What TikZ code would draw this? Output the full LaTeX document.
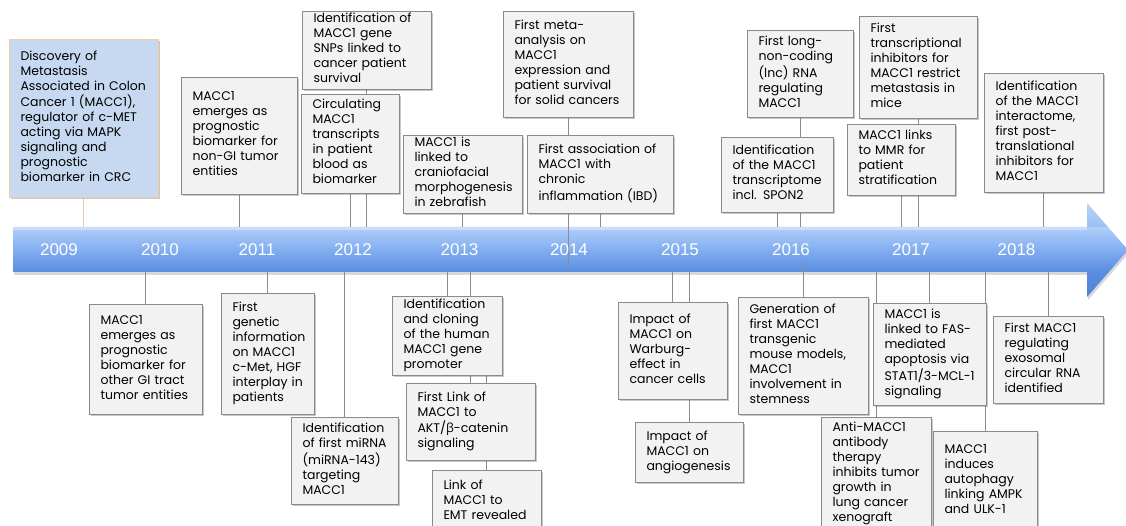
\documentclass[tikz,border=0pt]{standalone}
\usepackage{fontspec}
\newfontfamily\evfont{Poppins}
\newfontfamily\yrfont{Liberation Sans}
\newfontfamily\grkfont{Open Sans}
\usetikzlibrary{shadows}
\definecolor{boxfill}{HTML}{F2F2F2}
\definecolor{boxline}{HTML}{8A8A8A}
\definecolor{connc}{HTML}{8C8C8C}
\definecolor{firstfill}{HTML}{C6D9F1}
\definecolor{firstline}{HTML}{F0CCA8}
\definecolor{firstconn}{HTML}{E6CDB8}
\definecolor{bandtop}{HTML}{B0CEF9}
\definecolor{bandmid}{HTML}{82AEF0}
\definecolor{bandbot}{HTML}{598DDE}
\definecolor{headhi}{HTML}{9CC0F5}
\definecolor{headhitop}{HTML}{B6D3FA}
\definecolor{headlo}{HTML}{4F83D6}
\pgfdeclareverticalshading{arrowshade}{100bp}{color(0bp)=(headlo); color(25bp)=(headlo); color(38.3bp)=(bandbot); color(50bp)=(bandmid); color(62.2bp)=(bandtop); color(62.4bp)=(headhi); color(75bp)=(headhitop); color(100bp)=(headhitop)}
\pgfdeclarelayer{bglayer}
\pgfdeclarelayer{bandlayer}
\pgfdeclarelayer{connlayer}
\pgfsetlayers{bglayer,bandlayer,connlayer,main}
\newcommand\tl[1]{\begin{tabular}{@{}l@{}}#1\end{tabular}}
\tikzset{
  ev/.style={draw=boxline, fill=boxfill, line width=0.9pt, inner xsep=11.5pt, inner ysep=0pt,
    outer sep=0pt, align=left, font={\evfont\fontsize{12.5}{15}\selectfont}, text=black,
    drop shadow={shadow xshift=1.5pt, shadow yshift=-2pt, opacity=0.3, fill=black!70}},
  evfirst/.style={ev, draw=firstline, fill=firstfill},
  conn/.style={draw=connc, line width=0.9pt},
  connfirst/.style={draw=firstconn, line width=1.4pt},
  yr/.style={text=white, font={\yrfont\fontsize{17}{20}\selectfont}, inner sep=0pt}
}
\begin{document}
\begin{tikzpicture}[x=1pt, y=-1pt]
\useasboundingbox (0,0) rectangle (1126,526);
\begin{pgfonlayer}{bglayer}
\fill[white] (0,0) rectangle (1126,526);
\end{pgfonlayer}
% band with arrow head
\begin{pgfonlayer}{bandlayer}
\shade[shading=arrowshade,
  drop shadow={shadow xshift=1pt, shadow yshift=-3pt, opacity=0.25, fill=black!60}]
  (13,227) -- (1087,227) -- (1087,203) -- (1128,250) -- (1087,297) -- (1087,272) -- (13,272) -- cycle;
\fill[white, opacity=0.35] (13,227) rectangle (1087,230);
\end{pgfonlayer}
\coordinate (bt) at (0,227);
\coordinate (bm) at (0,267);
\coordinate (bb) at (0,272);
\coordinate (bg) at (0,262);
% years
\node[yr] (y2009) at (59,250) {2009};
\node[yr] (y2010) at (160,250) {2010};
\node[yr] (y2011) at (257,250) {2011};
\node[yr] (y2012) at (353,250) {2012};
\node[yr] (y2013) at (459.5,250) {2013};
\node[yr] (y2014) at (569,250) {2014};
\node[yr] (y2015) at (680,250) {2015};
\node[yr] (y2016) at (791,250) {2016};
\node[yr] (y2017) at (911,250) {2017};
\node[yr] (y2018) at (1016.5,250) {2018};
% top boxes
\node[evfirst, text width=126pt, minimum height=158pt] (b2009) at (83.5,118) {\tl{Discovery of\\ Metastasis\\ Associated in Colon\\ Cancer 1 (MACC1),\\ regulator of c-MET\\ acting via MAPK\\ signaling and\\ prognostic\\ biomarker in CRC}};
\node[ev, text width=93pt, minimum height=117pt] (b2011t) at (239,135.5) {\tl{MACC1\\ emerges as\\ prognostic\\ biomarker for\\ non-GI tumor\\ entities}};
\node[ev, text width=106pt, minimum height=78pt] (bsnp) at (366.5,50) {\tl{Identification of\\ MACC1 gene\\ SNPs linked to\\ cancer patient\\ survival}};
\node[ev, text width=75pt, minimum height=99pt] (bcirc) at (350,143.5) {\tl{Circulating\\ MACC1\\ transcripts\\ in patient\\ blood as\\ biomarker}};
\node[ev, text width=96pt, minimum height=78pt] (bzeb) at (462.5,174) {\tl{MACC1 is\\ linked to\\ craniofacial\\ morphogenesis\\ in zebrafish}};
\node[ev, text width=107pt, minimum height=106pt] (bmeta) at (568,64) {\tl{First meta-\\ analysis on\\ MACC1\\ expression and\\ patient survival\\ for solid cancers}};
\node[ev, text width=123pt, minimum height=78pt] (bibd) at (600,174) {\tl{First association of\\ MACC1 with\\ chronic\\ inflammation (IBD)}};
\node[ev, text width=83pt, minimum height=87pt] (blnc) at (800,73.5) {\tl{First long-\\ non-coding\\ (lnc) RNA\\ regulating\\ MACC1}};
\node[ev, text width=89pt, minimum height=75pt] (bspon) at (777,174.5) {\tl{Identification\\ of the MACC1\\ transcriptome\\ incl. SPON2}};
\node[ev, text width=95pt, minimum height=102pt] (btrans) at (918,67) {\tl{First\\ transcriptional\\ inhibitors for\\ MACC1 restrict\\ metastasis in\\ mice}};
\node[ev, text width=85pt, minimum height=71pt] (bmmr) at (901,159.5) {\tl{MACC1 links\\ to MMR for\\ patient\\ stratification}};
\node[ev, text width=96pt, minimum height=119pt] (binter) at (1043.5,132.5) {\tl{Identification\\ of the MACC1\\ interactome,\\ first post-\\ translational\\ inhibitors for\\ MACC1}};
% bottom boxes
\node[ev, text width=90pt, minimum height=110pt] (bgi) at (145.5,359) {\tl{MACC1\\ emerges as\\ prognostic\\ biomarker for\\ other GI tract\\ tumor entities}};
\node[ev, text width=70pt, minimum height=121pt] (bgen) at (267.5,353.5) {\tl{First\\ genetic\\ information\\ on MACC1\\ c-Met, HGF\\ interplay in\\ patients}};
\node[ev, text width=84pt, minimum height=87pt] (bmir) at (344.5,460.5) {\tl{Identification\\ of first miRNA\\ (miRNA-143)\\ targeting\\ MACC1}};
\node[ev, text width=87pt, minimum height=79pt] (bprom) at (447,335.5) {\tl{Identification\\ and cloning\\ of the human\\ MACC1 gene\\ promoter}};
\node[ev, text width=106pt, minimum height=77pt] (bakt) at (470.5,421.5) {\tl{First Link of\\ MACC1 to\\ AKT/{\grkfont β}-catenin\\ signaling}};
\node[ev, text width=86pt, minimum height=62pt] (bemt) at (486.5,501) {\tl{Link of\\ MACC1 to\\ EMT revealed}};
\node[ev, text width=86pt, minimum height=97pt] (bwar) at (672.5,350.5) {\tl{Impact of\\ MACC1 on\\ Warburg-\\ effect in\\ cancer cells}};
\node[ev, text width=85pt, minimum height=60pt] (bang) at (689,452) {\tl{Impact of\\ MACC1 on\\ angiogenesis}};
\node[ev, text width=107pt, minimum height=117pt] (bgenr) at (803,355.5) {\tl{Generation of\\ first MACC1\\ transgenic\\ mouse models,\\ MACC1\\ involvement in\\ stemness}};
\node[ev, text width=87pt, minimum height=112pt] (banti) at (876,473) {\tl{Anti-MACC1\\ antibody\\ therapy\\ inhibits tumor\\ growth in\\ lung cancer\\ xenograft}};
\node[ev, text width=90pt, minimum height=102pt] (bfas) at (929.5,354) {\tl{MACC1 is\\ linked to FAS-\\ mediated\\ apoptosis via\\ STAT1/3-MCL-1\\ signaling}};
\node[ev, text width=87pt, minimum height=87pt] (bexo) at (1048,359.5) {\tl{First MACC1\\ regulating\\ exosomal\\ circular RNA\\ identified}};
\node[ev, text width=81pt, minimum height=98pt] (bauto) at (985,480) {\tl{MACC1\\ induces\\ autophagy\\ linking AMPK\\ and ULK-1}};
% connectors
\begin{pgfonlayer}{connlayer}
\draw[connfirst] (b2009.south) -- (b2009.south |- bt);
\foreach \n in {b2011t,bsnp,bcirc,bzeb,bibd,blnc,bspon,btrans,bmmr,binter}
  \draw[conn] (\n.south) -- (\n.south |- bt);
\draw[conn] (bmeta.south) -- (bmeta.south |- bm);
\foreach \n in {bgi,bgen,bmir,bprom,bakt,bwar,bang,banti,bfas,bexo,bauto}
  \draw[conn] (bb -| \n.north) -- (\n.north);
\draw[conn] (bg -| bgenr.north) -- (bgenr.north);
\draw[conn] (bprom.south -| bemt.north) -- (bemt.north);
\end{pgfonlayer}
\end{tikzpicture}
\end{document}
